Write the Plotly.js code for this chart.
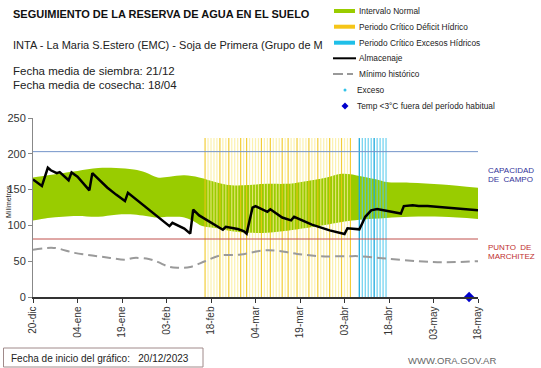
<!DOCTYPE html>
<html><head><meta charset="utf-8">
<script src="https://cdn.plot.ly/plotly-3.0.1.min.js"></script>
<style>html,body{margin:0;padding:0;background:#fff}#chart{width:541px;height:368px}</style>
</head><body><div id="chart"></div>
<script>
// ---- data ----
const tickDates = ['2023-12-20','2024-01-04','2024-01-19','2024-02-03','2024-02-18','2024-03-04','2024-03-19','2024-04-03','2024-04-18','2024-05-03','2024-05-18'];
const tickLabels = ['20-dic','04-ene','19-ene','03-feb','18-feb','04-mar','19-mar','03-abr','18-abr','03-may','18-may'];

const almDates = ['2023-12-20','2023-12-23','2023-12-25','2023-12-26','2023-12-28','2023-12-29','2024-01-01','2024-01-02','2024-01-04','2024-01-08','2024-01-09','2024-01-11','2024-01-14','2024-01-17','2024-01-20','2024-01-21','2024-01-26','2024-02-01','2024-02-04','2024-02-05','2024-02-08','2024-02-09','2024-02-11','2024-02-12','2024-02-14','2024-02-18','2024-02-22','2024-02-23','2024-02-24','2024-02-27','2024-02-29','2024-03-01','2024-03-03','2024-03-04','2024-03-08','2024-03-09','2024-03-13','2024-03-16','2024-03-17','2024-03-23','2024-03-29','2024-04-03','2024-04-04','2024-04-06','2024-04-08','2024-04-09','2024-04-10','2024-04-12','2024-04-14','2024-04-22','2024-04-23','2024-04-26','2024-04-28','2024-05-01','2024-05-06','2024-05-13','2024-05-18'];
const almValues = [164,155,180.5,177,173,174.5,163,174,168,149,173,165,153,143,134,145.5,129,110,99,103.5,97,95.5,88.5,122,114,104.5,94,98,97.5,95,92,88.5,125,127,119,122.5,111,107,112,101,93,88,96,95.5,94.5,103,112,121,123,116.5,127,128,127,127,125.5,123,121];

const upperDates = ['2023-12-20','2023-12-25','2023-12-30','2024-01-04','2024-01-11','2024-01-17','2024-01-23','2024-01-27','2024-01-31','2024-02-04','2024-02-09','2024-02-14','2024-02-20','2024-02-25','2024-03-02','2024-03-08','2024-03-14','2024-03-17','2024-03-23','2024-03-28','2024-04-02','2024-04-05','2024-04-08','2024-04-14','2024-04-17','2024-04-25','2024-05-06','2024-05-18'];
const upperValues = [167,170,173,176,180,180,178,174,167,168,170,167,160,156,156.5,158,158,159,163,167,172,171.5,169,164,160.5,159.5,157,152.5];

const lowerDates = ['2023-12-20','2023-12-25','2023-12-30','2024-01-04','2024-01-11','2024-01-17','2024-01-23','2024-01-31','2024-02-04','2024-02-09','2024-02-12','2024-02-15','2024-02-20','2024-02-25','2024-03-02','2024-03-08','2024-03-17','2024-03-28','2024-04-03','2024-04-08','2024-04-17','2024-04-25','2024-05-06','2024-05-18'];
const lowerValues = [107,110.5,112,113,112,115,115.3,111,112,111,106,99,96,92,89.6,89.8,94,101,105.5,108,110.5,112,112,109];

const minDates = ['2023-12-20','2023-12-27','2024-01-03','2024-01-09','2024-01-15','2024-01-20','2024-01-23','2024-01-28','2024-01-31','2024-02-04','2024-02-07','2024-02-11','2024-02-16','2024-02-21','2024-02-28','2024-03-06','2024-03-11','2024-03-18','2024-03-26','2024-04-04','2024-04-08','2024-04-17','2024-04-28','2024-05-07','2024-05-18'];
const minValues = [66,68.6,61.6,58,54.6,52.2,54.6,53,49,42,41,42,50,57.8,59.2,64.8,64.8,60.2,57,57,57,53.6,50,48.5,50];

const deficitPeriod = ['2024-02-16','2024-04-05'];
const deficitDark = ['2024-02-16','2024-02-21','2024-02-24','2024-02-28','2024-03-01','2024-03-06','2024-03-09','2024-03-13','2024-03-15','2024-03-18','2024-03-22','2024-03-25','2024-03-29','2024-04-02','2024-04-05'];
const excesoPeriod = ['2024-04-08','2024-04-17'];
const excesoDark = ['2024-04-08','2024-04-13'];
const stripeTop = [222];

const capacidadCampo = [203];
const puntoMarchitez = [81];
const tempDates = ['2024-05-15'];
const tempValues = [0];
const xRange = ['2023-12-20','2024-05-18'];

// ---- helpers ----
function dayList(a, b){
  const out=[]; let d=new Date(a+'T00:00:00Z'); const e=new Date(b+'T00:00:00Z');
  while(d<=e){ out.push(d.toISOString().slice(0,10)); d=new Date(d.getTime()+86400000); }
  return out;
}
function stripes(dates){
  const x=[],y=[];
  dates.forEach(d=>{x.push(d,d,null);y.push(0,stripeTop[0],null);});
  return {x,y};
}
const defAll = dayList(deficitPeriod[0],deficitPeriod[1]);
const defLight = stripes(defAll.filter(d=>!deficitDark.includes(d)));
const defDark = stripes(deficitDark);
const excAll = dayList(excesoPeriod[0],excesoPeriod[1]);
const excLight = stripes(excAll.filter(d=>!excesoDark.includes(d)));
const excDark = stripes(excesoDark);

const FONT = 'Liberation Sans, Arial, sans-serif';
const W=541,H=368,L=33,R=63,T=118,B=71;
const pw=W-L-R, ph=H-T-B;
const px=x=>(x-L)/pw, py=y=>(H-B-y)/ph;

const traces = [
  {x:lowerDates,y:lowerValues,type:'scatter',mode:'lines',line:{width:0,shape:'spline',color:'rgba(0,0,0,0)'},hoverinfo:'skip',showlegend:false},
  {x:upperDates,y:upperValues,type:'scatter',mode:'lines',fill:'tonexty',fillcolor:'#99cc00',line:{width:0,shape:'spline',color:'#99cc00'},showlegend:false,name:'Intervalo Normal'},
  {x:defLight.x,y:defLight.y,type:'scatter',mode:'lines',line:{color:'rgba(250,236,150,0.75)',width:1.2},showlegend:false,hoverinfo:'skip'},
  {x:defDark.x,y:defDark.y,type:'scatter',mode:'lines',line:{color:'rgba(240,196,20,0.85)',width:1.2},showlegend:false,hoverinfo:'skip'},
  {x:excLight.x,y:excLight.y,type:'scatter',mode:'lines',line:{color:'rgba(80,200,235,0.85)',width:1.2},showlegend:false,hoverinfo:'skip'},
  {x:excDark.x,y:excDark.y,type:'scatter',mode:'lines',line:{color:'rgba(30,170,220,0.95)',width:1.4},showlegend:false,hoverinfo:'skip'},
  {x:xRange,y:[capacidadCampo[0],capacidadCampo[0]],type:'scatter',mode:'lines',line:{color:'#7393c9',width:1},showlegend:false},
  {x:xRange,y:[puntoMarchitez[0],puntoMarchitez[0]],type:'scatter',mode:'lines',line:{color:'#c0504d',width:1},showlegend:false},
  {x:minDates,y:minValues,type:'scatter',mode:'lines',line:{color:'#9a9a9a',width:2,dash:'9px,5px',shape:'spline'},showlegend:false,name:'Mínimo histórico'},
  {x:almDates,y:almValues,type:'scatter',mode:'lines',line:{color:'#000',width:2.5},showlegend:false,name:'Almacenaje'},
  {x:tempDates,y:tempValues,type:'scatter',mode:'markers',marker:{symbol:'diamond',size:8,color:'#0000cc'},cliponaxis:false,showlegend:false}
];

const ann=(x,y,text,size,color,opts)=>Object.assign({xref:'paper',yref:'paper',x:px(x),y:py(y),text,showarrow:false,xanchor:'left',yanchor:'middle',font:{family:FONT,size,color}},opts||{});

const legItems = [
  ['Intervalo Normal',11],['Periodo Crítico Déficit Hídrico',26.7],['Periodo Crítico Excesos Hídricos',42.7],
  ['Almacenaje',58.3],['Mínimo histórico',74],['Exceso',90],['Temp <3°C fuera del período habitual',106]
];
const annotations = [
  ann(11,14,'<b>SEGUIMIENTO DE LA RESERVA DE AGUA EN EL SUELO</b>',11,'#111'),
  ann(11,45,'INTA - La Maria S.Estero (EMC) - Soja de Primera (Grupo de M',11,'#222'),
  ann(11,71,'Fecha media de siembra: 21/12',11.5,'#222'),
  ann(11,85,'Fecha media de cosecha: 18/04',11.5,'#222'),
  ann(486,170,'CAPACIDAD',8,'#333399'),
  ann(486,179,'DE  CAMPO',8,'#333399'),
  ann(486,247,'PUNTO  DE',8,'#c03030'),
  ann(486,256,'MARCHITEZ',8,'#c03030'),
  ann(8,202,'Milímetros',7,'#222',{xanchor:'center',textangle:-90}),
  ann(9,358,'Fecha de inicio del gráfico:   20/12/2023',10,'#222'),
  ann(498,360,'WWW.ORA.GOV.AR',9.5,'#666',{xanchor:'right'})
];
legItems.forEach((it,i)=>annotations.push(ann(i>=5?355:357,it[1],it[0],8.3,'#222')));

const shapes = [
  {type:'line',xref:'paper',yref:'paper',x0:px(334),x1:px(355),y0:py(11),y1:py(11),line:{color:'#99cc00',width:4}},
  {type:'line',xref:'paper',yref:'paper',x0:px(334),x1:px(355),y0:py(26.7),y1:py(26.7),line:{color:'#f5c518',width:4}},
  {type:'line',xref:'paper',yref:'paper',x0:px(334),x1:px(355),y0:py(42.7),y1:py(42.7),line:{color:'#1fbfe8',width:4}},
  {type:'line',xref:'paper',yref:'paper',x0:px(333),x1:px(356),y0:py(58.3),y1:py(58.3),line:{color:'#000',width:2}},
  {type:'line',xref:'paper',yref:'paper',x0:px(333),x1:px(343),y0:py(74),y1:py(74),line:{color:'#999',width:2}},
  {type:'line',xref:'paper',yref:'paper',x0:px(347),x1:px(353),y0:py(74),y1:py(74),line:{color:'#999',width:2}},
  {type:'circle',xref:'paper',yref:'paper',x0:px(343.5),x1:px(346.5),y0:py(88.5),y1:py(91.5),fillcolor:'#33c3e8',line:{width:0}},
  {type:'path',xref:'paper',yref:'paper',path:`M ${px(345)} ${py(102.5)} L ${px(348.5)} ${py(106)} L ${px(345)} ${py(109.5)} L ${px(341.5)} ${py(106)} Z`,fillcolor:'#0000cc',line:{width:0}},
  {type:'rect',xref:'paper',yref:'paper',x0:px(3.5),x1:px(203),y0:py(348),y1:py(367),line:{color:'#a08a8a',width:1},fillcolor:'rgba(0,0,0,0)'}
];

const layout = {
  width:W,height:H,margin:{l:L,r:R,t:T,b:B,pad:0},
  paper_bgcolor:'#fff',plot_bgcolor:'#fff',showlegend:false,
  xaxis:{type:'date',range:xRange,tickvals:tickDates,ticktext:tickLabels,tickangle:-90,ticks:'outside',ticklen:4,tickcolor:'#333',
    showline:true,linecolor:'#333',linewidth:1.5,showgrid:false,zeroline:false,automargin:false,fixedrange:true,
    tickfont:{family:FONT,size:10,color:'#333'}},
  yaxis:{range:[0,250],tickvals:[0,50,100,150,200,250],ticks:'outside',ticklen:4,tickcolor:'#888',showline:true,linecolor:'#888',linewidth:1,
    showgrid:false,zeroline:false,automargin:false,fixedrange:true,tickfont:{family:FONT,size:11,color:'#333'}},
  annotations,shapes
};
Plotly.newPlot('chart',traces,layout,{displayModeBar:false,staticPlot:true});
</script></body></html>
